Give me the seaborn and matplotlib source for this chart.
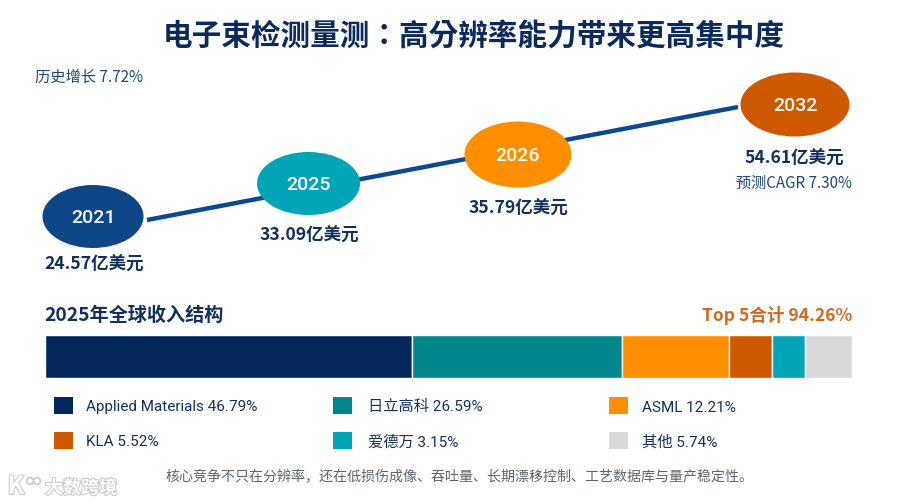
import matplotlib
matplotlib.use("Agg")
import matplotlib.pyplot as plt
import matplotlib.patheffects as pe
from matplotlib.patches import Ellipse, Rectangle, Circle
import pandas as pd
import seaborn as sns

# ---- data ----
years = ["2021", "2025", "2026", "2032"]
value_labels = ["24.57亿美元", "33.09亿美元", "35.79亿美元", "54.61亿美元"]
year_colors = ["#0F4687", "#00A5B8", "#FF8F00", "#CF5900"]
companies = ["Applied Materials", "日立高科", "ASML", "KLA", "爱德万", "其他"]
shares_label = ["46.79%", "26.59%", "12.21%", "5.52%", "3.15%", "5.74%"]
# segment widths as actually drawn in the picture (percent of bar length)
shares_drawn = [45.53, 26.03, 13.14, 5.42, 4.09, 5.79]
company_colors = ["#02275A", "#00868B", "#FF8F00", "#CF5900", "#00A5B8", "#D9D9D9"]

# ---- layout (pixels of the 900x504 canvas) ----
node_x = [93, 308.5, 518, 795]
node_y = [216.5, 183.5, 154.5, 104.5]
node_w = [101, 103, 107, 109]
node_h = [63, 63, 66, 64]
value_xy = [(94, 264), (309, 235), (518, 208), (794, 158)]
trend_x = [147, 738]
trend_y = [220, 107]
legend_sw_x = [53.5, 333, 609]
legend_tx_x = [86, 368, 642]
legend_y = [405.5, 440.5]

NAVY = "#12305C"
CJK = ["Noto Sans CJK SC", "DejaVu Sans"]
LATIN_CJK = ["Roboto", "Noto Sans CJK SC", "DejaVu Sans"]

sns.set_theme(style="white")
plt.rcParams["font.family"] = CJK

fig = plt.figure(figsize=(9, 5.04), dpi=100, facecolor="white")

# overlay axes in canvas pixels
ax = fig.add_axes([0, 0, 1, 1])

ax.text(474, 37, "电子束检测量测：高分辨率能力带来更高集中度", ha="center", va="center",
        fontsize=21.3, fontweight="bold", color="#0B2A5B",
        family=["Noto Sans CJK TC", "DejaVu Sans"])
ax.text(35, 77.5, "历史增长 7.72%", ha="left", va="center", fontsize=11, color="#1D4775")

# trend line
trend = pd.DataFrame({"x": trend_x, "y": trend_y})
sns.lineplot(data=trend, x="x", y="y", ax=ax, color="#0B4A8F", linewidth=3.2,
             solid_capstyle="butt", legend=False)
ax.set_xlim(0, 900)
ax.set_ylim(504, 0)
ax.axis("off")

for yr, x, y, w, h, c in zip(years, node_x, node_y, node_w, node_h, year_colors):
    ax.add_patch(Ellipse((x, y), w, h, facecolor=c, edgecolor="none", zorder=3))
    ax.text(x, y + 1.5, yr, ha="center", va="center", fontsize=14, fontweight="medium",
            family=LATIN_CJK, color="white", zorder=4)

for lab, (x, y) in zip(value_labels, value_xy):
    ax.text(x, y, lab, ha="center", va="center", fontsize=12.6, fontweight="bold", color=NAVY)

ax.text(794, 183, "预测CAGR 7.30%", ha="center", va="center", fontsize=10.9, color="#1D4775")

ax.text(44, 315, "2025年全球收入结构", ha="left", va="center", fontsize=13.8,
        fontweight="bold", color=NAVY)
ax.text(852, 315.5, "Top 5合计 94.26%", ha="right", va="center", fontsize=12.6,
        fontweight="bold", color="#D2691E")

# stacked share bar
bar_ax = fig.add_axes([45 / 900, 1 - 378 / 504, 807 / 900, 43 / 504])
left = 0
for name, w, c in zip(companies, shares_drawn, company_colors):
    d = pd.DataFrame({"share": [w], "row": ["收入"]})
    sns.barplot(data=d, x="share", y="row", orient="y", ax=bar_ax, color=c, saturation=1,
                width=1, left=left, edgecolor="white", linewidth=1)
    left += w
bar_ax.set_xlim(0, 100)
bar_ax.set_ylim(0.5, -0.5)
bar_ax.axis("off")

# legend
for i, (name, share, c) in enumerate(zip(companies, shares_label, company_colors)):
    col, row = i % 3, i // 3
    ax.add_patch(Rectangle((legend_sw_x[col], legend_y[row] - 8.5), 19, 17, facecolor=c, edgecolor="none"))
    ax.text(legend_tx_x[col], legend_y[row] + 2, f"{name} {share}", ha="left", va="center",
            fontsize=11, color=NAVY, family=LATIN_CJK)

ax.text(459.5, 477.5, "核心竞争不只在分辨率，还在低损伤成像、吞吐量、长期漂移控制、工艺数据库与量产稳定性。",
        ha="center", va="center", fontsize=10.1, color="#5C6670")

# watermark
halo = [pe.withStroke(linewidth=1.4, foreground="#C8C8C8")]
ax.text(81, 488, "大数跨境", ha="center", va="center", fontsize=13, color="white",
        fontweight="bold", path_effects=halo, zorder=6)
ax.text(16, 487, "K", ha="center", va="center", fontsize=18, color="white", fontweight="bold",
        path_effects=halo, zorder=6)
for cx in (30, 37):
    ax.add_patch(Circle((cx, 481), 3.4, facecolor="white", edgecolor="#C8C8C8", linewidth=1.1, zorder=6))

fig.savefig("out.png", dpi=100, facecolor="white")
